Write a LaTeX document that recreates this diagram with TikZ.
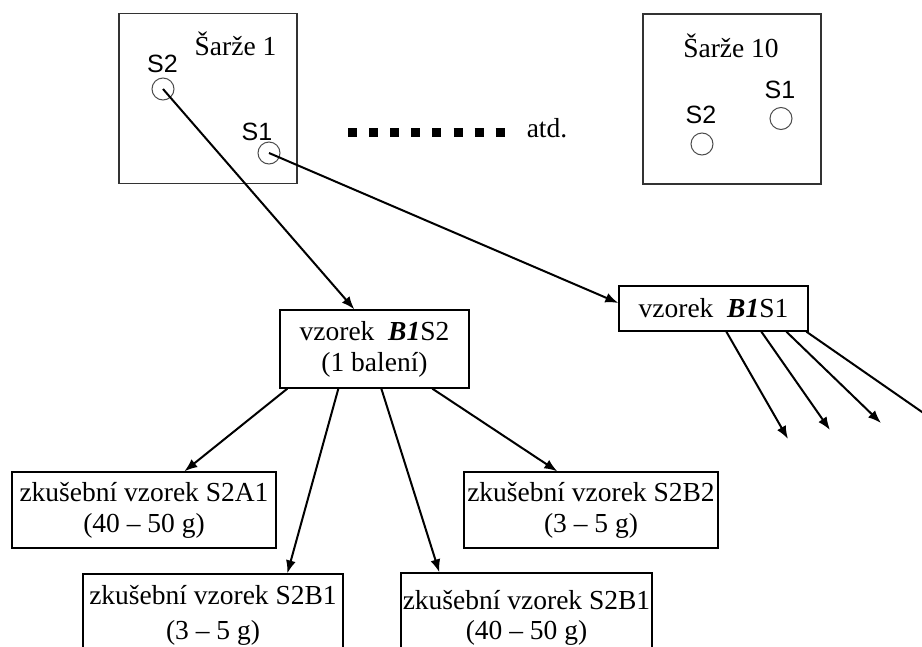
\documentclass[tikz,border=0pt]{standalone}
\usepackage{fontspec}
\setmainfont{Liberation Serif}
\newfontfamily\samplefont{Liberation Sans}
\usetikzlibrary{arrows.meta}

\begin{document}
\begin{tikzpicture}[x=1pt, y=1pt, >={Latex[length=13pt,width=10pt]},
        link/.style={->, line width=2pt},
        box/.style={draw, line width=1.3pt, inner sep=0pt, align=center, font=\fontsize{27.5}{31}\selectfont},
        batchbox/.style={draw=black!80, line width=1.4pt, minimum width=178pt, minimum height=170pt},
        probe/.style={circle, draw=black!70, line width=1pt, minimum size=22pt, inner sep=0pt},
        tag/.style={anchor=base, inner sep=0pt, font=\samplefont\fontsize{25}{28}\selectfont},
        heading/.style={anchor=base, inner sep=0pt, font=\fontsize{27.5}{31}\selectfont}]
        \useasboundingbox (0,0) rectangle (922,-646);
        \clip (0,0) rectangle (922,-646);

        % batches
        \node[batchbox] (batch1) at (208,-98.5) {};
        \node[batchbox] (batch10) at (732,-99) {};
        \node[heading] (t1) at (235.5,-55) {Šarže 1};
        \node[heading] (t10) at (731,-57) {Šarže 10};
        \node[probe] (s2a) at (163,-89) {};
        \node[probe] (s1a) at (269,-153) {};
        \node[probe] (s2j) at (702,-144) {};
        \node[probe] (s1j) at (781,-118.5) {};
        \node[tag] (l2a) at (162.5,-72) {S2};
        \node[tag] (l1a) at (257,-140) {S1};
        \node[tag] (l2j) at (701,-123) {S2};
        \node[tag] (l1j) at (780,-98) {S1};
        \draw[line width=9pt, dash pattern=on 9pt off 12.1pt] (348,-132) -- (506,-132);
        \node[heading] (etc) at (547,-137) {atd.};

        % samples
        \node[box, minimum width=189pt, minimum height=78pt] (bs2) at (374.5,-349) {vzorek\ \ \textbf{\textit{B1}}S2\\(1 balení)};
        \node[box, minimum width=189pt, minimum height=45pt] (bs1) at (713.5,-308.5) {vzorek\ \ \textbf{\textit{B1}}S1};
        \node[box, minimum width=264pt, minimum height=76pt] (ta1) at (144,-510) {zkušební vzorek S2A1\\(40 – 50 g)};
        \node[box, minimum width=254pt, minimum height=76pt] (tb2) at (591,-510) {zkušební vzorek S2B2\\(3 – 5 g)};
        \node[box, minimum width=260pt, minimum height=82.6pt, font=\fontsize{27.5}{35.5}\selectfont] (tb1) at (213,-615.3) {zkušební vzorek S2B1\\(3 – 5 g)};
        \node[box, minimum width=251pt, minimum height=89.6pt, font=\fontsize{27.5}{30.5}\selectfont] (tb1b) at (526.5,-617.8) {zkušební vzorek S2B1\\(40 – 50 g)};

        \draw[link] (s2a.center) -- ([xshift=75pt]bs2.north west);
        \draw[link] (s1a.center) -- ([yshift=5.5pt]bs1.west);
        \draw[link] ([xshift=8pt]bs2.south west) -- ([xshift=173pt]ta1.north west);
        \draw[link] ([xshift=59pt]bs2.south west) -- ([xshift=205pt]tb1.north west);
        \draw[link] ([xshift=102pt]bs2.south west) -- ([xshift=39pt]tb1b.north west);
        \draw[link] ([xshift=153pt]bs2.south west) -- ([xshift=94pt]tb2.north west);

        \coordinate (f1) at (788,-439);
        \coordinate (f2) at (830,-430);
        \coordinate (f3) at (881,-423);
        \coordinate (f4) at (940,-424.5);
        \draw[link] ([xshift=108pt]bs1.south west) -- (f1);
        \draw[link] ([xshift=143pt]bs1.south west) -- (f2);
        \draw[link] ([xshift=168pt]bs1.south west) -- (f3);
        \draw[link] ([xshift=188pt]bs1.south west) -- (f4);
    \end{tikzpicture}
\end{document}
